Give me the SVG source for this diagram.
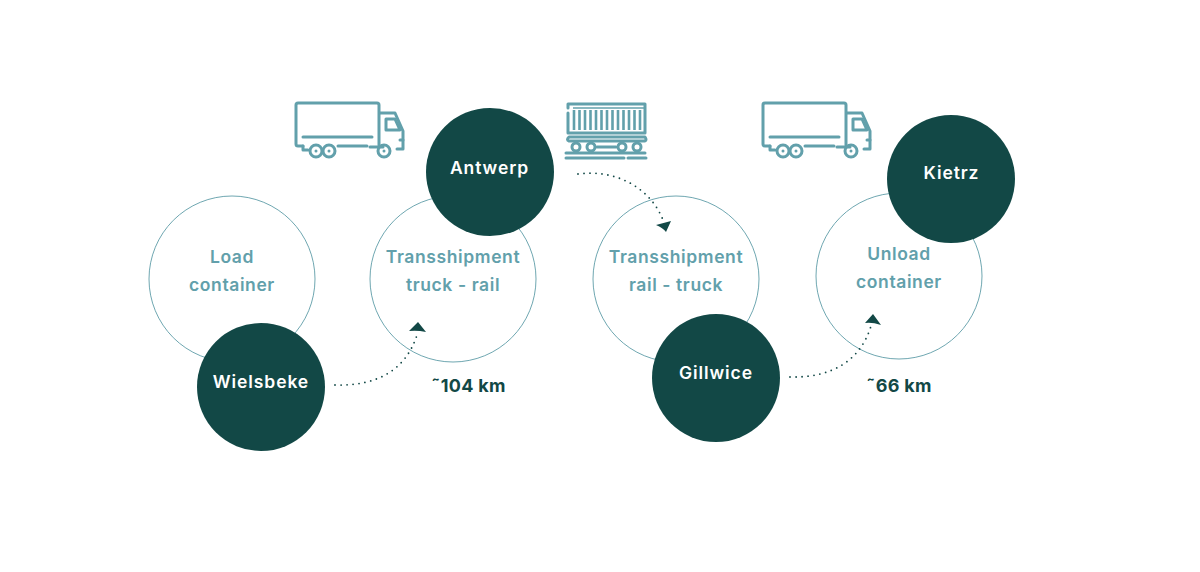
<svg xmlns="http://www.w3.org/2000/svg" width="1200" height="572" viewBox="0 0 1200 572">
<style>
.ring{fill:#fff;stroke:#6fa7b1;stroke-width:1}
.dark{fill:#124846}
.lab{font-family:Inter,"Liberation Sans",sans-serif;font-weight:600;font-size:17.5px;letter-spacing:.6px;fill:#62a0ab;text-anchor:middle}
.wl{font-family:Inter,"Liberation Sans",sans-serif;font-weight:600;font-size:17.5px;letter-spacing:.9px;fill:#fff;text-anchor:middle}
.km{font-family:Inter,"Liberation Sans",sans-serif;font-weight:700;font-size:18px;letter-spacing:.3px;fill:#124846;text-anchor:middle}
.dot{fill:none;stroke:#124846;stroke-width:1.8;stroke-linecap:round;stroke-dasharray:0 6}
.ic{fill:none;stroke:#62a0ab;stroke-width:3;stroke-linecap:round;stroke-linejoin:round}
.st{fill:none;stroke:#62a0ab;stroke-width:2.6}
.th{fill:none;stroke:#62a0ab;stroke-width:1.6}
.ar{fill:#124846}
</style>
<defs>
<g id="truck">
<path class="ic" d="M303 146H298Q296 146 296 144V105Q296 103 298 103H377Q379 103 379 105V145M379 113H395L403 131V149H397M370 147H383"/>
<path class="ic" d="M386 119H395L400 130H386ZM303 137H372M338 146H367M303 146V150H308M403 140H400"/>
<circle class="ic" cx="316" cy="151" r="6"/><circle class="ic" cx="329" cy="151" r="6"/><circle class="ic" cx="384" cy="151" r="6"/>
<circle cx="316" cy="151" r="1.5" fill="#62a0ab"/><circle cx="329" cy="151" r="1.5" fill="#62a0ab"/><circle cx="384" cy="151" r="1.5" fill="#62a0ab"/>
</g>
</defs>
<g id="truck-1"><use href="#truck"/></g>
<g id="train">
<path class="ic" d="M568 108V104H645V133H568V113"/>
<path class="th" d="M573 108H645"/>
<path class="st" d="M574 110V130M579.500 110V130M585 110V130M590.500 110V130M596 110V130M601.500 110V130M607 110V130M612.500 110V130M618 110V130M623.500 110V130M629 110V130M634.500 110V130M640 110V130"/>
<path class="ic" d="M569 137H645Q647 140 645 141H569Q566 140 569 137Z"/>
<circle class="ic" cx="576" cy="147" r="4"/><circle class="ic" cx="591" cy="147" r="4"/><circle class="ic" cx="622" cy="147" r="4"/><circle class="ic" cx="637" cy="147" r="4"/>
<path class="ic" d="M566 153H645M566 158H624M628 158H646M597 147H616"/>
</g>
<g id="truck-2"><use href="#truck" x="467"/></g>
<g id="load"><circle class="ring" cx="232" cy="279" r="83"/><text class="lab" x="232" y="263">Load</text><text class="lab" x="232" y="291">container</text></g>
<g id="transshipment-1"><circle class="ring" cx="453" cy="279" r="83"/><text class="lab" x="453" y="263">Transshipment</text><text class="lab" x="453" y="291">truck - rail</text></g>
<g id="transshipment-2"><circle class="ring" cx="676" cy="279" r="83"/><text class="lab" x="676" y="263">Transshipment</text><text class="lab" x="676" y="291">rail - truck</text></g>
<g id="unload"><circle class="ring" cx="899" cy="276" r="83"/><text class="lab" x="899" y="260">Unload</text><text class="lab" x="899" y="288">container</text></g>
<g id="connectors">
<path class="dot" d="M335 385C375 386 405 372 417 335"/><path class="ar" d="M409 331L418 322L426 332Q417 330 409 331Z"/>
<path class="dot" d="M578 174C615 169 650 187 663 220"/><path class="ar" d="M656 225L671 221L666 232Q663 228 656 225Z"/>
<path class="dot" d="M790 377C830 378 860 362 871 326"/><path class="ar" d="M865 323L873 314L881 325Q872 322 865 323Z"/>
</g>
<g id="wielsbeke"><circle class="dark" cx="261" cy="387" r="64"/><text class="wl" x="261" y="388">Wielsbeke</text></g>
<g id="antwerp"><circle class="dark" cx="490" cy="172" r="64"/><text class="wl" x="489.500" y="174">Antwerp</text></g>
<g id="gillwice"><circle class="dark" cx="716" cy="378" r="64"/><text class="wl" x="716" y="379">Gillwice</text></g>
<g id="kietrz"><circle class="dark" cx="951" cy="179" r="64"/><text class="wl" x="951.500" y="179">Kietrz</text></g>
<text class="km" x="468.500" y="392">˜104 km</text>
<text class="km" x="899" y="392">˜66 km</text>
</svg>
